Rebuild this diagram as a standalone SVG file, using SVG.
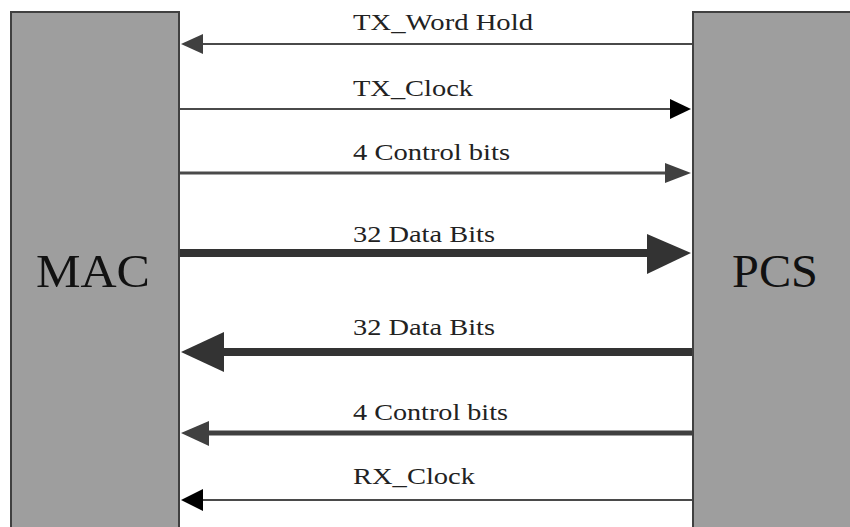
<svg xmlns="http://www.w3.org/2000/svg" width="850" height="527" viewBox="0 0 850 527">
<style>
.box{fill:#9e9e9e;stroke:#404040;stroke-width:2}
.big{font-family:"Liberation Serif","Times New Roman",serif;font-size:47px;fill:#111}
.lbl{font-family:"Liberation Serif","Times New Roman",serif;font-size:23px;fill:#222}
.ln{stroke:#4a4a4a;fill:none}
</style>
<rect width="850" height="527" fill="#ffffff"/>
<g id="mac">
<rect class="box" x="11" y="12" width="168" height="530"/>
<text class="big" x="36" y="287" textLength="114" lengthAdjust="spacingAndGlyphs">MAC</text>
</g>
<g id="pcs">
<rect class="box" x="693" y="12" width="170" height="530"/>
<text class="big" x="732" y="287" textLength="86" lengthAdjust="spacingAndGlyphs">PCS</text>
</g>
<g id="connectors">
<line class="ln" x1="200" y1="44" x2="692" y2="44" stroke-width="2"/>
<polygon points="181,44 203,34 203,54" fill="#404040"/>
<line class="ln" x1="180" y1="109" x2="672" y2="109" stroke-width="2"/>
<polygon points="691,109 670,99 670,119" fill="#000"/>
<line class="ln" x1="180" y1="173" x2="668" y2="173" stroke-width="3"/>
<polygon points="691,173 665,163 665,183" fill="#404040"/>
<line x1="180" y1="253" x2="650" y2="253" stroke="#333" stroke-width="8"/>
<polygon points="691,253 647,234 647,274" fill="#333"/>
<line x1="220" y1="352" x2="692" y2="352" stroke="#333" stroke-width="8"/>
<polygon points="181,352 224,332 224,372" fill="#333"/>
<line x1="205" y1="433" x2="692" y2="433" stroke="#404040" stroke-width="5"/>
<polygon points="181,433 209,421 209,446" fill="#404040"/>
<line class="ln" x1="200" y1="500" x2="692" y2="500" stroke-width="2"/>
<polygon points="181,500 203,489 203,511" fill="#000"/>
</g>
<g id="labels">
<text class="lbl" x="353" y="30" textLength="180" lengthAdjust="spacingAndGlyphs">TX_Word Hold</text>
<text class="lbl" x="353" y="96" textLength="120" lengthAdjust="spacingAndGlyphs">TX_Clock</text>
<text class="lbl" x="353" y="160" textLength="157" lengthAdjust="spacingAndGlyphs">4 Control bits</text>
<text class="lbl" x="353" y="242" textLength="142" lengthAdjust="spacingAndGlyphs">32 Data Bits</text>
<text class="lbl" x="353" y="335" textLength="142" lengthAdjust="spacingAndGlyphs">32 Data Bits</text>
<text class="lbl" x="353" y="420" textLength="155" lengthAdjust="spacingAndGlyphs">4 Control bits</text>
<text class="lbl" x="353" y="484" textLength="122" lengthAdjust="spacingAndGlyphs">RX_Clock</text>
</g>
</svg>
